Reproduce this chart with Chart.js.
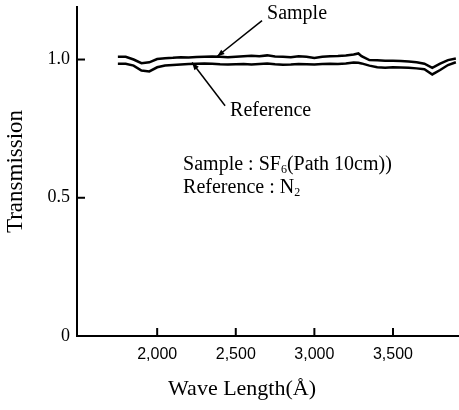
<!DOCTYPE html>
<html>
<head>
<meta charset="utf-8">
<script src="https://cdn.jsdelivr.net/npm/chart.js@4"></script>
<style>
  html, body { margin: 0; padding: 0; background: #fff; }
  #wrap { width: 459px; height: 410px; }
</style>
</head>
<body>
<div id="wrap"><canvas id="transChart"></canvas></div>
<script>
// values
const wavelengths = [1750, 1800, 1850, 1900, 1950, 2000, 2050, 2100, 2150, 2200,
  2250, 2300, 2350, 2400, 2450, 2500, 2550, 2600, 2650, 2700,
  2750, 2800, 2850, 2900, 2950, 3000, 3050, 3100, 3150, 3200,
  3250, 3280, 3300, 3350, 3400, 3450, 3500, 3550, 3600, 3650,
  3700, 3750, 3800, 3850, 3900];
const sampleValues = [1.010, 1.010, 1.000, 0.987, 0.990, 1.002, 1.005, 1.006, 1.008, 1.007,
  1.009, 1.010, 1.011, 1.010, 1.008, 1.010, 1.012, 1.014, 1.012, 1.015,
  1.011, 1.010, 1.008, 1.012, 1.010, 1.006, 1.010, 1.012, 1.013, 1.015,
  1.018, 1.022, 1.012, 0.998, 0.997, 0.996, 0.996, 0.995, 0.993, 0.990,
  0.985, 0.970, 0.985, 0.998, 1.004];
const referenceValues = [0.985, 0.985, 0.978, 0.960, 0.957, 0.972, 0.978, 0.980, 0.982, 0.984,
  0.985, 0.986, 0.985, 0.983, 0.982, 0.983, 0.984, 0.982, 0.984, 0.986,
  0.983, 0.981, 0.982, 0.984, 0.983, 0.982, 0.984, 0.985, 0.984, 0.986,
  0.989, 0.988, 0.986, 0.978, 0.972, 0.970, 0.972, 0.971, 0.970, 0.968,
  0.965, 0.946, 0.962, 0.980, 0.990];
const xTicks = [2000, 2500, 3000, 3500];
const yTicks = [0, 0.5, 1.0];
const yTickLabels = ['0', '0.5', '1.0'];

const serif = '"Liberation Serif", "Times New Roman", serif';
const sans = '"Liberation Sans", Arial, sans-serif';

function toPoints(xs, ys) {
  return xs.map((x, i) => ({ x: x, y: ys[i] }));
}

// text with subscript parts: [text, isSub]
function richText(ctx, parts, x, y, size) {
  let cx = x;
  parts.forEach(p => {
    const s = p[1] ? Math.round(size * 0.6) : size;
    ctx.font = s + 'px ' + serif;
    ctx.fillText(p[0], cx, p[1] ? y + size * 0.18 : y);
    cx += ctx.measureText(p[0]).width;
  });
}

function arrow(ctx, x1, y1, x2, y2) {
  ctx.beginPath();
  ctx.moveTo(x1, y1);
  ctx.lineTo(x2, y2);
  ctx.stroke();
  const a = Math.atan2(y2 - y1, x2 - x1);
  const len = 8, w = 0.35;
  ctx.beginPath();
  ctx.moveTo(x2, y2);
  ctx.lineTo(x2 - len * Math.cos(a - w), y2 - len * Math.sin(a - w));
  ctx.lineTo(x2 - len * Math.cos(a + w), y2 - len * Math.sin(a + w));
  ctx.closePath();
  ctx.fill();
}

const figureExtras = {
  id: 'figureExtras',
  afterDraw(chart) {
    const ctx = chart.ctx;
    const area = chart.chartArea;
    const px = v => chart.scales.x.getPixelForValue(v);
    const py = v => chart.scales.y.getPixelForValue(v);
    ctx.save();
    ctx.strokeStyle = '#000';
    ctx.fillStyle = '#000';
    ctx.lineWidth = 2;

    // tick marks pointing into the plot
    yTicks.slice(1).forEach(v => {
      ctx.beginPath();
      ctx.moveTo(area.left, py(v));
      ctx.lineTo(area.left + 8, py(v));
      ctx.stroke();
    });
    xTicks.forEach(v => {
      ctx.beginPath();
      ctx.moveTo(px(v), area.bottom);
      ctx.lineTo(px(v), area.bottom - 8);
      ctx.stroke();
    });

    // arrows
    ctx.lineWidth = 1.5;
    arrow(ctx, px(2667), py(1.141), px(2381), py(1.011));
    arrow(ctx, px(2432), py(0.833), px(2222), py(0.989));

    // labels
    ctx.textBaseline = 'alphabetic';
    ctx.textAlign = 'left';
    richText(ctx, [['Sample', false]], px(2699), py(1.145), 20);
    richText(ctx, [['Reference', false]], px(2464), py(0.795), 20);
    richText(ctx, [['Sample : SF', false], ['6', true], ['(Path 10cm))', false]], px(2165), py(0.601), 20);
    richText(ctx, [['Reference : N', false], ['2', true]], px(2165), py(0.518), 20);

    // x axis title
    ctx.textAlign = 'center';
    ctx.textBaseline = 'middle';
    ctx.font = '22px ' + serif;
    ctx.fillText('Wave Length(Å)', px(2540), 389);
    ctx.restore();
  }
};

const ctx = document.getElementById('transChart').getContext('2d');

const data = {
  datasets: [
    {
      label: 'Sample',
      data: toPoints(wavelengths, sampleValues),
      borderColor: '#000',
      borderWidth: 2.5,
      pointRadius: 0,
      tension: 0
    },
    {
      label: 'Reference',
      data: toPoints(wavelengths, referenceValues),
      borderColor: '#000',
      borderWidth: 2.5,
      pointRadius: 0,
      tension: 0
    }
  ]
};

const config = {
  type: 'line',
  data: data,
  options: {
    responsive: true,
    maintainAspectRatio: false,
    animation: false,
    layout: {
      padding: { top: 7, right: 0, left: 0, bottom: 0 }
    },
    plugins: {
      legend: { display: false },
      tooltip: { enabled: false }
    },
    scales: {
      x: {
        type: 'linear',
        min: 1490,
        max: 3920,
        grid: { display: false, drawTicks: false },
        border: { display: true, color: '#000', width: 2 },
        afterBuildTicks: scale => {
          scale.ticks = xTicks.map(v => ({ value: v }));
        },
        afterFit: scale => {
          scale.height = 74;
          scale.paddingLeft = 0;
          scale.paddingRight = 0;
        },
        ticks: {
          color: '#000',
          padding: 9,
          maxRotation: 0,
          font: { family: sans, size: 16 },
          callback: v => v.toLocaleString('en-US')
        }
      },
      y: {
        min: 0,
        max: 1.19,
        grid: { display: false, drawTicks: false },
        border: { display: true, color: '#000', width: 2 },
        afterBuildTicks: scale => {
          scale.ticks = yTicks.map(v => ({ value: v }));
        },
        afterFit: scale => {
          scale.width = 77;
          scale.paddingTop = 0;
          scale.paddingBottom = 0;
        },
        title: {
          display: true,
          text: 'Transmission',
          color: '#000',
          padding: 2,
          font: { family: serif, size: 23 }
        },
        ticks: {
          color: '#000',
          padding: 7,
          font: { family: serif, size: 18 },
          callback: (v, i) => yTickLabels[i]
        }
      }
    }
  },
  plugins: [figureExtras]
};

const transChart = new Chart(ctx, config);
</script>
</body>
</html>
